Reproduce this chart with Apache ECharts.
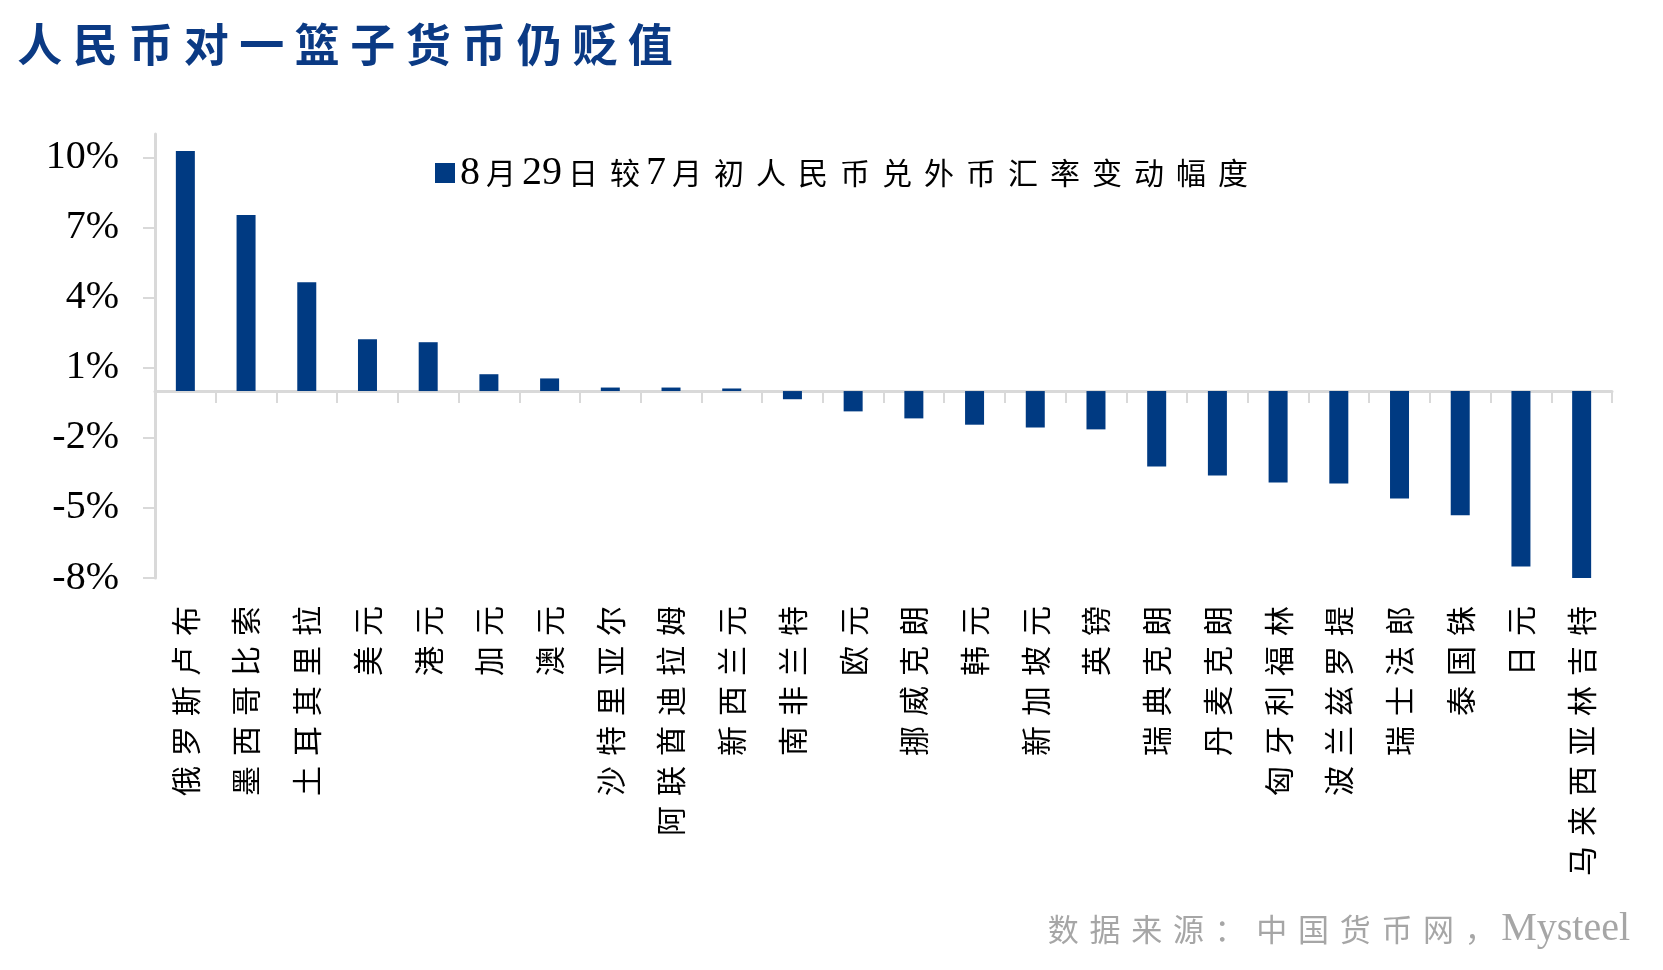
<!DOCTYPE html>
<html>
<head>
<meta charset="utf-8">
<script src="https://cdn.jsdelivr.net/npm/echarts@6/dist/echarts.min.js"></script>
<style>
  html, body { margin: 0; padding: 0; background: #ffffff; }
  #chart { width: 1663px; height: 970px; }
</style>
</head>
<body>
<div id="chart"></div>
<script>
const TITLE = '人民币对一篮子货币仍贬值';
const SERIES_NAME = '8月29日较7月初人民币兑外币汇率变动幅度';
const SOURCE = '数据来源：中国货币网，Mysteel';
const CATEGORIES = ['俄罗斯卢布', '墨西哥比索', '土耳其里拉', '美元', '港元', '加元', '澳元',
  '沙特里亚尔', '阿联酋迪拉姆', '新西兰元', '南非兰特', '欧元', '挪威克朗', '韩元', '新加坡元',
  '英镑', '瑞典克朗', '丹麦克朗', '匈牙利福林', '波兰兹罗提', '瑞士法郎', '泰国铢', '日元', '马来西亚林吉特'];
const VALUES = [10.27, 7.53, 4.66, 2.22, 2.09, 0.72, 0.54,
  0.15, 0.15, 0.11, -0.35, -0.87, -1.17, -1.44, -1.56,
  -1.64, -3.23, -3.61, -3.91, -3.96, -4.60, -5.31, -7.51, -8.05];
const Y_TICKS = [-8, -5, -2, 1, 4, 7, 10];
const Y_MIN = -8, Y_MAX = 11;

// build rich text: each CJK char in its own fixed-width box, latin runs kept together
function spaced(str) {
  let out = '', run = '';
  for (const ch of str) {
    if (/[\u3000-\u9fff\uff00-\uffef]/.test(ch)) {
      if (run) { out += '{l|' + run + '}'; run = ''; }
      out += '{c|' + ch + '}';
    } else run += ch;
  }
  if (run) out += '{l|' + run + '}';
  return out;
}

const CJK = 'Noto Sans CJK SC';
const SERIF = 'Liberation Serif';
const BLUE = '#003a82';
const GRAY_AXIS = '#d9d9d9';

const chart = echarts.init(document.getElementById('chart'));
chart.setOption({
  animation: false,
  backgroundColor: '#ffffff',
  title: [{
    text: spaced(TITLE),
    left: 12, top: 17, padding: 0,
    textStyle: {
      rich: {
        c: { fontFamily: CJK, fontSize: 45, fontWeight: 'bold', color: '#0b3a84', width: 55.5, align: 'center', lineHeight: 56 }
      }
    }
  }, {
    text: spaced(SOURCE),
    right: 33, top: 905, padding: 0,
    textStyle: {
      fontWeight: 'normal',
      rich: {
        c: { fontFamily: CJK, fontSize: 31, fontWeight: 'normal', color: '#a6a6a6', width: 41.7, align: 'center', lineHeight: 48 },
        l: { fontFamily: SERIF, fontSize: 40, fontWeight: 'normal', color: '#a6a6a6', lineHeight: 48 }
      }
    }
  }],
  legend: {
    data: [SERIES_NAME],
    left: 435, top: 153, padding: 0,
    itemWidth: 20, itemHeight: 20,
    icon: 'rect',
    formatter: function (name) { return spaced(name); },
    textStyle: {
      rich: {
        c: { fontFamily: CJK, fontSize: 30, color: '#000', width: 42, align: 'center', lineHeight: 48 },
        l: { fontFamily: SERIF, fontSize: 40, color: '#000', lineHeight: 48 }
      }
    }
  },
  grid: { left: 155, right: 51, top: 134, bottom: 392, containLabel: false, outerBoundsMode: 'none' },
  xAxis: {
    type: 'category',
    data: CATEGORIES,
    axisLine: { show: true, onZero: true, lineStyle: { color: GRAY_AXIS, width: 3 } },
    axisTick: { show: true, length: 12, lineStyle: { color: GRAY_AXIS, width: 2 } },
    axisLabel: {
      interval: 0,
      rotate: 90,
      margin: 23,
      hideOverlap: false,
      formatter: function (v) { return spaced(v); },
      rich: {
        c: { fontFamily: CJK, fontSize: 30, color: '#000', width: 40, align: 'center', lineHeight: 40 }
      }
    },
    splitLine: { show: false }
  },
  yAxis: {
    type: 'value',
    min: Y_MIN, max: Y_MAX,
    axisLine: { show: true, lineStyle: { color: GRAY_AXIS, width: 3 } },
    axisTick: { show: true, length: 12, customValues: Y_TICKS, lineStyle: { color: GRAY_AXIS, width: 2 } },
    axisLabel: {
      customValues: Y_TICKS,
      margin: 36,
      fontFamily: SERIF, fontSize: 40, color: '#000',
      formatter: function (v) { return v + '%'; }
    },
    splitLine: { show: false }
  },
  series: [{
    name: SERIES_NAME,
    type: 'bar',
    data: VALUES,
    barWidth: 19,
    itemStyle: { color: BLUE }
  }]
});
</script>
</body>
</html>
